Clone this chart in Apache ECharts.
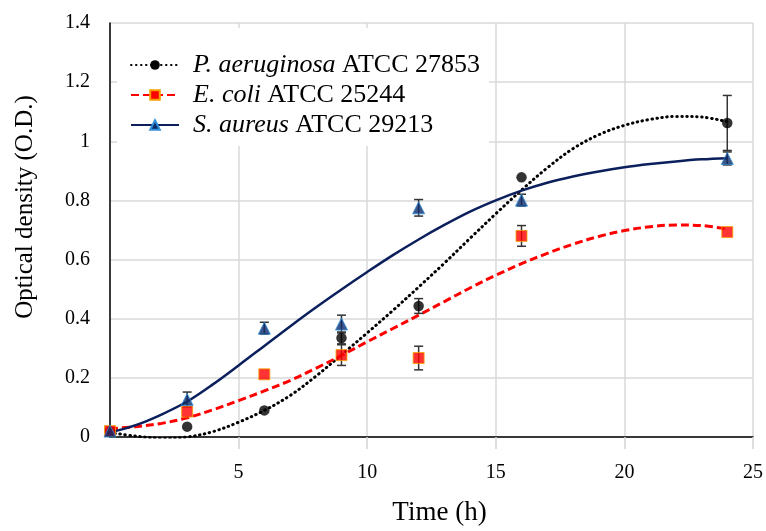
<!DOCTYPE html>
<html>
<head>
<meta charset="utf-8">
<script src="https://cdn.jsdelivr.net/npm/echarts@6/dist/echarts.min.js"></script>
<style>
  html, body { margin: 0; padding: 0; background: #ffffff; }
  #chart { width: 766px; height: 531px; }
</style>
</head>
<body>
<div id="chart"></div>
<script>
// ---- Data ----
var seriesNames = ['P. aeruginosa ATCC 27853', 'E. coli ATCC 25244', 'S. aureus ATCC 29213'];
var italicParts = ['P. aeruginosa', 'E. coli', 'S. aureus'];

var times = [0, 3, 6, 9, 12, 16, 24];

var paeMean = [0.02, 0.035, 0.09, 0.335, 0.443, 0.878, 1.062];
var paeErr  = [0, 0, 0, 0.02, 0.025, 0, 0.093];

var ecoMean = [0.02, 0.086, 0.212, 0.277, 0.267, 0.68, 0.693];
var ecoErr  = [0, 0, 0, 0.035, 0.04, 0.035, 0];

var sauMean = [0.02, 0.127, 0.368, 0.382, 0.775, 0.801, 0.942];
var sauErr  = [0, 0.025, 0.02, 0.03, 0.028, 0.02, 0.022];

// trend curves (hourly)
var trendTimes = [0, 1, 2, 3, 4, 5, 6, 7, 8, 9, 10, 11, 12, 13, 14, 15, 16, 17, 18, 19, 20, 21, 22, 23, 24];
var paeTrend = [0.015, 0.003, -0.004, 0.0, 0.018, 0.05, 0.09, 0.14, 0.205, 0.278, 0.352, 0.428, 0.507, 0.588, 0.672, 0.755, 0.835, 0.91, 0.975, 1.022, 1.054, 1.074, 1.084, 1.082, 1.066];
var ecoTrend = [0.028, 0.035, 0.046, 0.065, 0.092, 0.123, 0.156, 0.191, 0.232, 0.276, 0.322, 0.367, 0.412, 0.458, 0.504, 0.547, 0.586, 0.621, 0.652, 0.678, 0.698, 0.711, 0.717, 0.715, 0.703];
var sauTrend = [0.015, 0.04, 0.076, 0.12, 0.178, 0.242, 0.308, 0.374, 0.438, 0.499, 0.558, 0.615, 0.668, 0.717, 0.762, 0.8, 0.833, 0.86, 0.881, 0.898, 0.912, 0.923, 0.932, 0.939, 0.943];

var xTicks = [5, 10, 15, 20, 25];

// ---- Build chart ----
var FONT = 'Liberation Serif, Times New Roman, serif';

function pairs(xs, ys) { return xs.map(function (x, i) { return [x, ys[i]]; }); }
function errData(xs, ys, es) {
  var out = [];
  xs.forEach(function (x, i) { if (es[i] > 0) out.push([x, ys[i] - es[i], ys[i] + es[i]]); });
  return out;
}
function errSeries(name, data) {
  return {
    name: name, type: 'custom', z: 4, silent: true,
    data: data,
    renderItem: function (params, api) {
      var x = api.value(0);
      var lo = api.coord([x, api.value(1)]);
      var hi = api.coord([x, api.value(2)]);
      var hw = 4.5;
      var st = { stroke: '#333333', lineWidth: 1.5 };
      return {
        type: 'group',
        children: [
          { type: 'line', shape: { x1: lo[0], y1: lo[1], x2: hi[0], y2: hi[1] }, style: st },
          { type: 'line', shape: { x1: lo[0] - hw, y1: lo[1], x2: lo[0] + hw, y2: lo[1] }, style: st },
          { type: 'line', shape: { x1: hi[0] - hw, y1: hi[1], x2: hi[0] + hw, y2: hi[1] }, style: st }
        ]
      };
    }
  };
}

var styles = [
  { symbol: 'circle', size: 10.5, item: { color: '#000000' },
    line: { color: '#000000', width: 3, type: [0.5, 4.5], cap: 'round' } },
  { symbol: 'rect', size: 11, item: { color: '#ff0000', borderColor: '#f5a000', borderWidth: 1 },
    line: { color: '#ff0000', width: 3, type: [8, 4] } },
  { symbol: 'triangle', size: 12, item: { color: '#0c2a6a', borderColor: '#2f8fd8', borderWidth: 1 },
    line: { color: '#0b1f5c', width: 2.5, type: 'solid' } }
];
var means = [paeMean, ecoMean, sauMean];
var errs = [paeErr, ecoErr, sauErr];
var trends = [paeTrend, ecoTrend, sauTrend];

var series = [];
for (var k = 0; k < 3; k++) {
  series.push({
    name: seriesNames[k], type: 'line', smooth: 0.35, showSymbol: false,
    symbol: styles[k].symbol, z: 3, silent: true,
    itemStyle: styles[k].item, lineStyle: styles[k].line,
    data: pairs(trendTimes, trends[k])
  });
}
for (var k2 = 0; k2 < 3; k2++) {
  series.push(errSeries(seriesNames[k2] + ' err', errData(times, means[k2], errs[k2])));
}
for (var k3 = 0; k3 < 3; k3++) {
  series.push({
    name: seriesNames[k3] + ' pts', type: 'scatter', z: 5, silent: true,
    symbol: styles[k3].symbol, symbolSize: styles[k3].size,
    itemStyle: styles[k3].item,
    data: pairs(times, means[k3])
  });
}

var chart = echarts.init(document.getElementById('chart'), null, { renderer: 'canvas' });
chart.setOption({
  animation: false,
  backgroundColor: '#ffffff',
  grid: { left: 110, right: 11, top: 23, bottom: 88, containLabel: false },
  legend: {
    data: seriesNames,
    orient: 'vertical',
    left: 117, top: 28,
    backgroundColor: '#ffffff',
    padding: [24, 9, 8, 13],
    itemWidth: 48, itemHeight: 12, itemGap: 4,
    selectedMode: false,
    formatter: function (name) {
      var idx = seriesNames.indexOf(name);
      var it = italicParts[idx];
      return '{i|' + it + '}{n|' + name.slice(it.length) + '}';
    },
    textStyle: {
      fontFamily: FONT, fontSize: 26, color: '#000', lineHeight: 26,
      padding: [0, 0, 0, 9],
      rich: {
        i: { fontFamily: FONT, fontSize: 26, fontStyle: 'italic', color: '#000', lineHeight: 26 },
        n: { fontFamily: FONT, fontSize: 26, color: '#000', lineHeight: 26 }
      }
    }
  },
  xAxis: {
    type: 'value', min: 0, max: 25, interval: 5,
    name: 'Time (h)', nameLocation: 'middle', nameGap: 62,
    nameTextStyle: { fontFamily: FONT, fontSize: 27, color: '#000', padding: [0, 0, 0, 16] },
    axisLine: { show: true, onZero: false, lineStyle: { color: '#000', width: 1.5 } },
    axisTick: { show: true, length: 12, lineStyle: { color: '#d4d4d4', width: 1.5 } },
    axisLabel: {
      fontFamily: FONT, fontSize: 20, color: '#000', margin: 26,
      showMinLabel: false,
      formatter: function (v) { return xTicks.indexOf(v) >= 0 ? String(v) : ''; }
    },
    splitLine: { show: true, lineStyle: { color: '#d9d9d9', width: 1.5 } }
  },
  yAxis: {
    type: 'value', min: 0, max: 1.4, interval: 0.2,
    name: 'Optical density (O.D.)', nameLocation: 'middle', nameGap: 72,
    nameTextStyle: { fontFamily: FONT, fontSize: 25, color: '#000', padding: [0, 0, 0, 46] },
    axisLine: { show: true, lineStyle: { color: '#000', width: 1.5 } },
    axisTick: { show: false },
    axisLabel: { fontFamily: FONT, fontSize: 20, color: '#000', margin: 20 },
    splitLine: { show: true, lineStyle: { color: '#d9d9d9', width: 1.5 } }
  },
  series: series
});
</script>
</body>
</html>
